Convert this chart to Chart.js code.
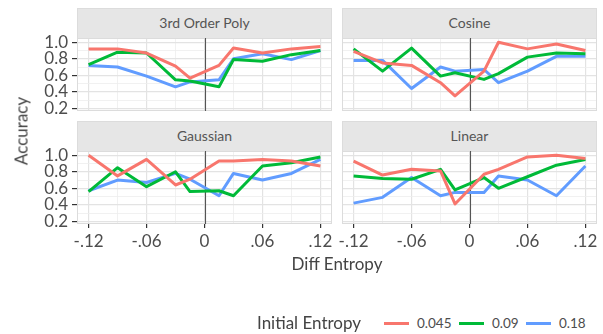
<!DOCTYPE html>
<html>
<head>
<meta charset="utf-8">
<script src="https://cdn.jsdelivr.net/npm/chart.js@4"></script>
<style>
body{margin:0;width:603px;height:334px;position:relative;background:#fff;font-family:Lato,sans-serif;color:#4d4d4d;overflow:hidden}
canvas,.strip,.lbl{position:absolute}
.strip{background:#e6e6e6;border:1px solid #dcdcdc;box-sizing:border-box;font-size:14px;text-align:center;line-height:28px;color:#555}
.lbl{white-space:nowrap;color:#444}
.key{position:absolute;height:3px;width:25px}
</style>
</head>
<body>
<script>
// x positions shared by every panel
const xVals = [-0.12, -0.09, -0.06, -0.03, -0.015, 0.015, 0.03, 0.06, 0.09, 0.12];

const panelNames = ['3rd Order Poly', 'Cosine', 'Gaussian', 'Linear'];
const entropyLevels = ['0.045', '0.09', '0.18'];
const colors = ['#F8766D', '#00BA38', '#619CFF'];

const poly045 = [0.92, 0.92, 0.87, 0.71, 0.565, 0.72, 0.93, 0.87, 0.92, 0.95];
const poly09  = [0.73, 0.88, 0.87, 0.545, 0.53, 0.46, 0.79, 0.77, 0.85, 0.90];
const poly18  = [0.72, 0.70, 0.59, 0.46, 0.52, 0.545, 0.80, 0.86, 0.79, 0.90];

const cos045 = [0.89, 0.75, 0.72, 0.51, 0.35, 0.65, 1.00, 0.92, 0.98, 0.90];
const cos09  = [0.92, 0.65, 0.93, 0.59, 0.63, 0.55, 0.62, 0.82, 0.87, 0.86];
const cos18  = [0.78, 0.78, 0.44, 0.70, 0.65, 0.67, 0.51, 0.65, 0.83, 0.83];

const gauss045 = [1.00, 0.75, 0.95, 0.64, 0.71, 0.93, 0.93, 0.95, 0.93, 0.87];
const gauss09  = [0.56, 0.85, 0.62, 0.80, 0.56, 0.57, 0.51, 0.87, 0.91, 0.98];
const gauss18  = [0.57, 0.70, 0.67, 0.78, 0.71, 0.51, 0.78, 0.70, 0.78, 0.95];

const lin045 = [0.93, 0.76, 0.83, 0.81, 0.41, 0.77, 0.83, 0.98, 1.00, 0.96];
const lin09  = [0.75, 0.72, 0.71, 0.83, 0.58, 0.73, 0.60, 0.74, 0.88, 0.95];
const lin18  = [0.42, 0.49, 0.73, 0.51, 0.55, 0.55, 0.75, 0.70, 0.51, 0.87];

const xMajor = [-0.12, -0.06, 0, 0.06, 0.12];
const xMajorLabels = ['-.12', '-.06', '0', '.06', '.12'];
const xMinor = [-0.09, -0.03, 0.03, 0.09];
const yMajor = [0.2, 0.4, 0.6, 0.8, 1.0];
const yMajorLabels = ['0.2', '0.4', '0.6', '0.8', '1.0'];
const yMinor = [0.3, 0.5, 0.7, 0.9];
const vlineAt = 0;

const panelData = [
  [poly045, poly09, poly18],
  [cos045, cos09, cos18],
  [gauss045, gauss09, gauss18],
  [lin045, lin09, lin18]
];

// plot rectangles of the four facets
const boxes = [
  {x: 77, y: 38, w: 255, h: 73, left: true, bottom: false},
  {x: 342, y: 38, w: 255, h: 73, left: false, bottom: false},
  {x: 77, y: 151, w: 255, h: 73, left: true, bottom: true},
  {x: 342, y: 151, w: 255, h: 73, left: false, bottom: true}
];

Chart.defaults.font.family = 'Lato, sans-serif';
Chart.defaults.color = '#4d4d4d';

const near = (arr, v) => arr.findIndex(m => Math.abs(m - v) < 1e-9);

// panel border + the vertical reference line, drawn over the grid
const panelDeco = {
  id: 'panelDeco',
  beforeDatasetsDraw(chart) {
    const a = chart.chartArea, ctx = chart.ctx;
    ctx.save();
    ctx.strokeStyle = '#dcdcdc';
    ctx.lineWidth = 1;
    ctx.strokeRect(a.left + 0.5, a.top + 0.5, a.right - a.left - 1, a.bottom - a.top - 1);
    const px = Math.round(chart.scales.x.getPixelForValue(vlineAt)) + 0.5;
    ctx.strokeStyle = '#555';
    ctx.lineWidth = 1.1;
    ctx.beginPath();
    ctx.moveTo(px, a.top);
    ctx.lineTo(px, a.bottom);
    ctx.stroke();
    ctx.restore();
  }
};

function gridColor(majors) {
  return c => near(majors, c.tick.value) >= 0 ? '#e3e3e3' : '#ededed';
}

boxes.forEach((b, i) => {
  const strip = document.createElement('div');
  strip.className = 'strip';
  strip.style.left = b.x + 'px';
  strip.style.top = (b.y - 30) + 'px';
  strip.style.width = b.w + 'px';
  strip.style.height = '31px';
  strip.textContent = panelNames[i];
  document.body.appendChild(strip);

  const cv = document.createElement('canvas');
  const W = b.w + 92, H = b.h + 50;
  cv.width = W; cv.height = H;
  cv.style.left = (b.x - 80) + 'px';
  cv.style.top = (b.y - 10) + 'px';
  cv.style.width = W + 'px';
  cv.style.height = H + 'px';
  document.body.appendChild(cv);

  const yW = b.left ? 77 : 0;
  const xH = b.bottom ? 30 : 0;

  new Chart(cv, {
    type: 'line',
    data: {
      datasets: panelData[i].map((vals, k) => ({
        label: entropyLevels[k],
        data: vals.map((v, j) => ({x: xVals[j], y: v})),
        borderColor: colors[k],
        borderWidth: 3,
        pointRadius: 0,
        tension: 0,
        fill: false,
        borderJoinStyle: 'round'
      }))
    },
    options: {
      responsive: false,
      animation: false,
      devicePixelRatio: 1,
      layout: {padding: {left: 80 - yW, top: 10, right: 12, bottom: 40 - xH}},
      plugins: {legend: {display: false}, tooltip: {enabled: false}},
      scales: {
        x: {
          type: 'linear',
          min: -0.132,
          max: 0.132,
          afterBuildTicks: s => { s.ticks = xMajor.concat(xMinor).map(v => ({value: v})); },
          afterFit: s => { s.height = xH; s.paddingLeft = 0; s.paddingRight = 0; },
          border: {display: false},
          grid: {
            color: gridColor(xMajor),
            lineWidth: c => near(xMinor, c.tick.value) >= 0 ? 0.8 : 1.2,
            drawTicks: b.bottom,
            tickLength: 4,
            tickColor: c => near(xMajor, c.tick.value) >= 0 ? '#333' : 'rgba(0,0,0,0)',
            tickWidth: 1.2
          },
          ticks: {
            display: b.bottom,
            autoSkip: false,
            maxRotation: 0,
            padding: 3,
            font: {size: 17},
            color: '#4d4d4d',
            callback: v => { const k = near(xMajor, v); return k < 0 ? '' : xMajorLabels[k]; }
          }
        },
        y: {
          min: 0.167,
          max: 1.052,
          afterBuildTicks: s => { s.ticks = yMajor.concat(yMinor).map(v => ({value: v})); },
          afterFit: s => { s.width = yW; s.paddingTop = 0; s.paddingBottom = 0; },
          border: {display: false},
          grid: {
            color: gridColor(yMajor),
            lineWidth: c => near(yMinor, c.tick.value) >= 0 ? 0.8 : 1.2,
            drawTicks: b.left,
            tickLength: 5,
            tickColor: c => near(yMajor, c.tick.value) >= 0 ? '#333' : 'rgba(0,0,0,0)',
            tickWidth: 1.2
          },
          ticks: {
            display: b.left,
            autoSkip: false,
            padding: 4,
            font: {size: 17},
            color: '#4d4d4d',
            callback: v => { const k = near(yMajor, v); return k < 0 ? '' : yMajorLabels[k]; }
          }
        }
      }
    },
    plugins: [panelDeco]
  });
});

function label(text, css) {
  const d = document.createElement('div');
  d.className = 'lbl';
  d.textContent = text;
  Object.assign(d.style, css);
  document.body.appendChild(d);
  return d;
}

label('Diff Entropy', {left: '337px', top: '253px', fontSize: '17px', transform: 'translateX(-50%)'});
label('Accuracy', {left: '21px', top: '131px', fontSize: '17px', transform: 'translate(-50%,-50%) rotate(-90deg)'});
label('Initial Entropy', {left: '257px', top: '312px', fontSize: '17px'});

const keyX = [384, 459, 526];
entropyLevels.forEach((lv, k) => {
  const key = document.createElement('div');
  key.className = 'key';
  key.style.left = keyX[k] + 'px';
  key.style.top = '322px';
  key.style.background = colors[k];
  document.body.appendChild(key);
  label(lv, {left: (keyX[k] + 33) + 'px', top: '315px', fontSize: '13.5px', color: '#4d4d4d'});
});
</script>
</body>
</html>
